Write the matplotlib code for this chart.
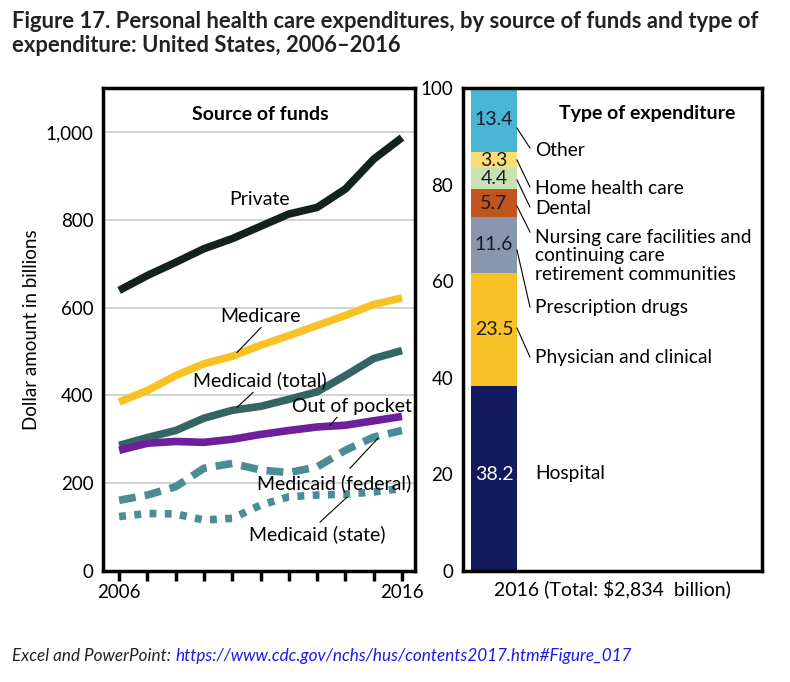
import numpy as np
import matplotlib
matplotlib.use("Agg")
import matplotlib.pyplot as plt

plt.rcParams['font.family'] = ['Lato', 'DejaVu Sans']

years = list(range(2006, 2017))
private = [639, 673, 703, 734, 757, 785, 813, 828, 870, 938, 987]
medicare = [385, 411, 445, 472, 489, 514, 536, 559, 582, 607, 622]
medicaid_total = [286, 304, 320, 348, 366, 375, 391, 408, 445, 484, 502]
out_of_pocket = [275, 291, 295, 293, 300, 311, 320, 328, 332, 342, 352]
medicaid_federal = [161, 173, 192, 234, 245, 230, 224, 237, 275, 305, 320]
medicaid_state = [124, 131, 130, 116, 120, 150, 169, 173, 175, 180, 188]

exp_types = ["Hospital", "Physician and clinical", "Prescription drugs",
             "Nursing care facilities and\ncontinuing care\nretirement communities",
             "Dental", "Home health care", "Other"]
exp_share = [38.2, 23.5, 11.6, 5.7, 4.4, 3.3, 13.4]
exp_colors = ["#111a5c", "#f8c125", "#8896b0", "#c0541e", "#c7e3b4", "#fbdd73", "#48b5d4"]

fig = plt.figure(figsize=(7.9, 6.82), dpi=100)

def px(x, y):
    return x / 790, 1 - y / 682

# ---- left panel: source of funds
ax = fig.add_axes([103 / 790, 111 / 682, 312 / 790, 483 / 682])
ax.set_xlim(2005.43, 2016.46)
ax.set_ylim(0, 1100)
for v in range(200, 1001, 200):
    ax.axhline(v, color="#d0d0d0", lw=1.3, zorder=0)

ax.plot(years, private, color="#13211f", lw=5.5, solid_capstyle="butt")
ax.plot(years, medicare, color="#f8c125", lw=5.5, solid_capstyle="butt")
ax.plot(years, medicaid_total, color="#346563", lw=5.5, solid_capstyle="butt")
ax.plot(years, out_of_pocket, color="#6e1f9c", lw=5.5, solid_capstyle="butt")
ax.plot(years, medicaid_federal, color="#4a8e93", lw=5.5, dashes=(2.2, 1.2))
ax.plot(years, medicaid_state, color="#4a8e93", lw=5.5, dashes=(0.9, 1.1))

ax.set_xticks(years)
ax.set_xticklabels(["2006"] + [""] * 9 + ["2016"])
ax.tick_params(axis="x", direction="out", length=7, width=2.5, labelsize=13.5, pad=2)
ax.set_yticks(range(0, 1001, 200))
ax.set_yticklabels(["0", "200", "400", "600", "800", "1,000"])
ax.tick_params(axis="y", length=0, labelsize=13.5, pad=7)
for s in ax.spines.values():
    s.set_linewidth(2.5)
ax.set_ylabel("Dollar amount in billions", fontsize=13.5, labelpad=4)

def d(xp, yp):
    return 2006 + (xp - 119) / 28.3, (571 - yp) / 0.44

fs = 14
ax.text(*d(260, 114), "Source of funds", ha="center", va="center", fontsize=fs, fontweight="bold")
ax.text(*d(260, 199), "Private", ha="center", va="center", fontsize=fs)
ax.text(*d(260, 316), "Medicare", ha="center", va="center", fontsize=fs)
ax.text(*d(260, 380), "Medicaid (total)", ha="center", va="center", fontsize=fs)
ax.text(*d(352, 406), "Out of pocket", ha="center", va="center", fontsize=fs)
ax.text(*d(334, 483), "Medicaid (federal)", ha="center", va="center", fontsize=fs)
ax.text(*d(317, 534), "Medicaid (state)", ha="center", va="center", fontsize=fs)
for (a, b) in [((261, 327), (237, 352)), ((253, 392), (237, 407)), ((337, 417), (330, 425)),
               ((378, 438), (350, 468)), ((347, 497), (320, 522))]:
    p, q = d(*a), d(*b)
    ax.plot([p[0], q[0]], [p[1], q[1]], color="black", lw=0.8)

# ---- right panel: type of expenditure
bx = fig.add_axes([463 / 790, 111 / 682, 299 / 790, 483 / 682])
bx.set_xlim(-0.674, 5.83)
bx.set_ylim(0, 100)
bottoms = np.concatenate([[0], np.cumsum(exp_share)[:-1]])
bx.bar(0, exp_share, bottom=bottoms, width=1, color=exp_colors)
for i, (b, v) in enumerate(zip(bottoms, exp_share)):
    c = "white" if i == 0 else "#1a1a2a"
    yy = 20 if i == 0 else b + v / 2
    bx.text(0, yy, f"{v}", ha="center", va="center", fontsize=fs, color=c)

bx.set_xticks([])
bx.set_yticks(range(0, 101, 20))
bx.tick_params(axis="y", length=0, labelsize=13.5, pad=7)
for s in bx.spines.values():
    s.set_linewidth(2.5)
bx.set_xlabel("2016 (Total: $2,834  billion)", fontsize=fs, labelpad=6)

def e(xp, yp):
    return (xp - 494) / 46, (571 - yp) / 4.83

bx.text(*e(647, 114), "Type of expenditure", ha="center", va="center", fontsize=fs, fontweight="bold")
label_y = [474, 357, 307, 256, 208, 188, 150]
for name, yp in zip(exp_types, label_y):
    bx.text(*e(535, yp), name, ha="left", va="center", fontsize=13.8, linespacing=1.1)
leaders = [((517, 328), (530, 357)), ((517, 250), (530, 307)), ((517, 206), (530, 232)),
           ((517, 180), (530, 207)), ((517, 160), (530, 187)), ((517, 128), (530, 148))]
for a, b in leaders:
    p, q = e(*a), e(*b)
    bx.plot([p[0], q[0]], [p[1], q[1]], color="black", lw=0.8)

# ---- title and footer
fig.text(*px(12, 11), "Figure 17. Personal health care expenditures, by source of funds and type of\nexpenditure: United States, 2006\u20132016",
         ha="left", va="top", fontsize=15.8, fontweight="bold", color="#222222", linespacing=1.18)
t1 = fig.text(*px(12, 656), "Excel and PowerPoint: ", ha="left", va="center", fontsize=12.3,
              style="italic", color="#222222")
fig.canvas.draw()
bb = t1.get_window_extent()
fig.text(bb.x1 / 790, 1 - 656 / 682, "https://www.cdc.gov/nchs/hus/contents2017.htm#Figure_017",
         ha="left", va="center", fontsize=12.3, style="italic", color="#1a1aee")

fig.savefig("out.png", dpi=100)
